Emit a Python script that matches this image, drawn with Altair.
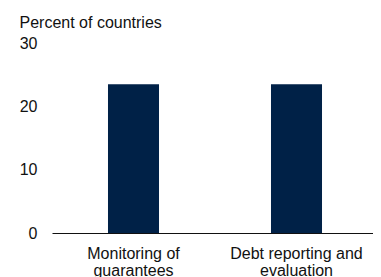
import altair as alt
import pandas as pd

categories = ["Monitoring of\nguarantees", "Debt reporting and\nevaluation"]
values = [23.5, 23.5]
y_ticks = [0, 10, 20, 30]

df = pd.DataFrame({"category": categories, "value": values})

FONT = "Liberation Sans"

chart = alt.Chart(df).mark_bar(color="#002147").encode(
    x=alt.X(
        "category:N",
        sort=categories,
        scale=alt.Scale(paddingInner=0.687, paddingOuter=0.3435, range=[0, 326]),
        axis=alt.Axis(
            title=None,
            labelAngle=0,
            ticks=False,
            tickSize=0,
            labelPadding=12,
            labelFont=FONT,
            labelFontSize=16,
            labelColor="#111111",
            labelLineHeight=17,
            labelExpr="split(datum.label, '\\n')",
            domainColor="#111111",
            domainWidth=1.2,
            grid=False,
        ),
    ),
    y=alt.Y(
        "value:Q",
        scale=alt.Scale(domain=[0, 30], nice=False, zero=True),
        axis=alt.Axis(
            values=y_ticks,
            title="Percent of countries",
            titleAngle=0,
            titleAlign="left",
            titleBaseline="alphabetic",
            titleX=-33,
            titleY=-16,
            titleFont=FONT,
            titleFontSize=16,
            titleFontWeight="normal",
            titleColor="#111111",
            domain=False,
            ticks=False,
            tickSize=0,
            grid=False,
            labelAlign="right",
            labelBaseline="middle",
            labelPadding=15,
            labelFont=FONT,
            labelFontSize=16,
            labelColor="#111111",
        ),
    ),
).properties(
    width=321,
    height=190,
    autosize=alt.AutoSizeParams(type="none"),
    padding={"left": 44, "top": 35, "right": 0, "bottom": 50},
).configure_view(stroke=None)

chart.save("out.html", embed_options={"renderer": "svg", "actions": False})
